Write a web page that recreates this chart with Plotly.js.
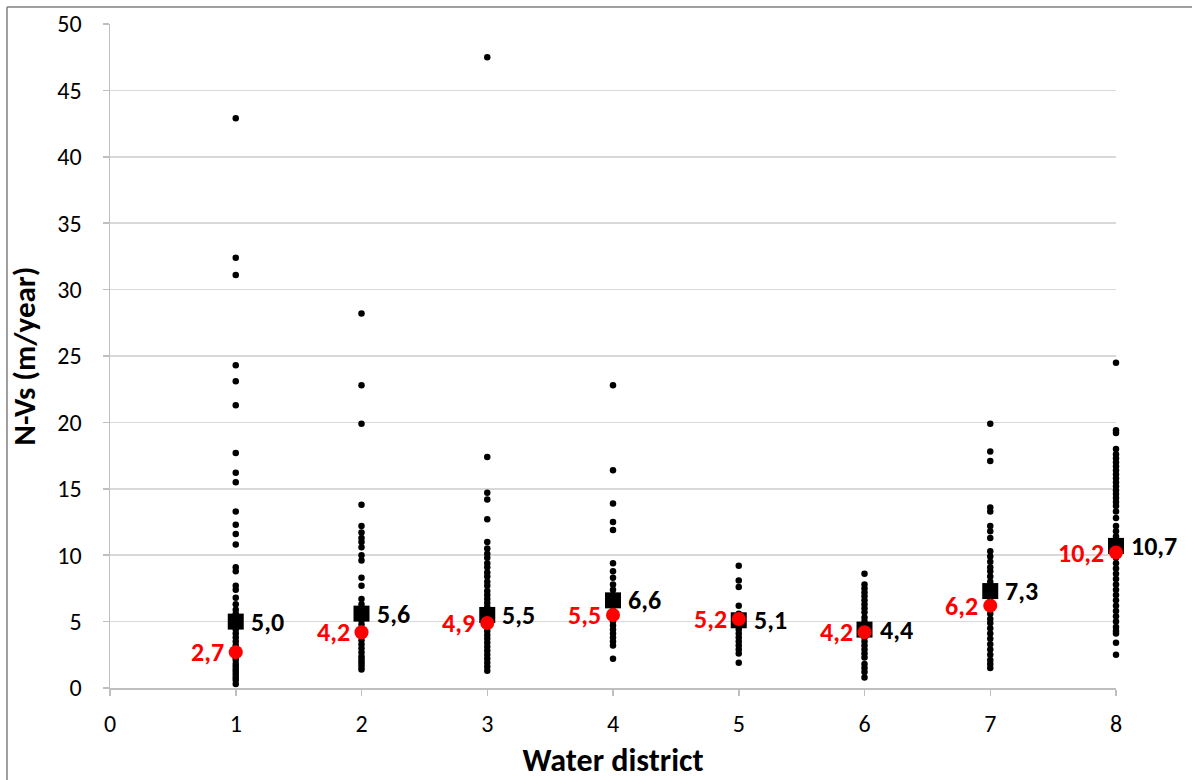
<!DOCTYPE html>
<html>
<head>
<meta charset="utf-8">
<script src="https://cdn.plot.ly/plotly-3.0.1.min.js"></script>
<style>
html,body{margin:0;padding:0;background:#fff;}
#chart{width:1192px;height:780px;}
</style>
</head>
<body>
<div id="chart"></div>
<script>
// District numbers
var districts = [1, 2, 3, 4, 5, 6, 7, 8];
// Individual N-Vs values (m/year) per water district
var d1 = [42.9, 32.4, 31.1, 24.3, 23.1, 21.3, 17.7, 16.2, 15.5, 13.3, 12.3, 11.6, 10.8, 9.1, 8.8, 7.7, 7.4, 6.8, 6.3, 5.9, 5.6, 5.3, 5.0, 4.7, 4.4, 4.1, 3.8, 3.5, 3.2, 2.9, 2.6, 2.3, 2.1, 1.8, 1.6, 1.4, 1.2, 1.0, 0.8, 0.6, 0.3];
var d2 = [28.2, 22.8, 19.9, 13.8, 12.2, 11.7, 11.3, 11.0, 10.6, 10.0, 9.6, 8.3, 7.7, 6.7, 6.3, 6.0, 5.7, 5.4, 5.1, 4.8, 4.5, 4.2, 3.9, 3.6, 3.3, 3.0, 2.7, 2.4, 2.2, 2.0, 1.8, 1.6, 1.4];
var d3 = [47.5, 17.4, 14.7, 14.2, 12.7, 11.0, 10.5, 10.1, 9.8, 9.4, 9.1, 8.7, 8.4, 8.0, 7.7, 7.3, 7.0, 6.7, 6.4, 6.1, 5.8, 5.5, 5.2, 4.9, 4.6, 4.3, 4.0, 3.7, 3.4, 3.1, 2.8, 2.5, 2.2, 1.9, 1.6, 1.3];
var d4 = [22.8, 16.4, 13.9, 12.5, 11.9, 9.4, 8.8, 8.3, 7.8, 7.4, 7.0, 6.6, 6.2, 5.8, 5.4, 5.0, 4.7, 4.4, 4.1, 3.8, 3.5, 3.2, 2.2];
var d5 = [9.2, 8.1, 7.6, 6.2, 5.6, 5.3, 5.0, 4.7, 4.4, 4.1, 3.8, 3.5, 3.2, 2.9, 2.6, 1.9];
var d6 = [8.6, 7.8, 7.5, 7.2, 6.9, 6.6, 6.3, 6.0, 5.7, 5.3, 5.0, 4.7, 4.4, 4.1, 3.8, 3.5, 3.2, 2.9, 2.6, 2.3, 1.8, 1.5, 1.2, 0.8];
var d7 = [19.9, 17.8, 17.1, 13.6, 13.3, 12.2, 11.8, 11.3, 10.3, 9.9, 9.5, 9.1, 8.8, 8.4, 8.0, 7.6, 7.2, 6.8, 6.4, 6.0, 5.6, 5.2, 4.9, 4.5, 4.1, 3.7, 3.3, 2.9, 2.5, 2.1, 1.8, 1.5];
var d8 = [24.5, 19.4, 19.2, 18.0, 17.6, 17.3, 17.0, 16.7, 16.4, 16.1, 15.8, 15.5, 15.2, 14.9, 14.6, 14.3, 14.0, 13.7, 13.3, 12.8, 12.2, 11.8, 11.4, 11.0, 10.6, 10.2, 9.8, 9.4, 9.0, 8.6, 8.2, 7.8, 7.4, 7.0, 6.6, 6.2, 5.8, 5.4, 5.0, 4.6, 4.3, 4.1, 3.4, 2.5];
// Mean (black squares) and median (red circles)
var means = [5.0, 5.6, 5.5, 6.6, 5.1, 4.4, 7.3, 10.7];
var medians = [2.7, 4.2, 4.9, 5.5, 5.2, 4.2, 6.2, 10.2];

var groups = [d1, d2, d3, d4, d5, d6, d7, d8];
var px = [], py = [];
groups.forEach(function (g, i) {
  g.forEach(function (v) { px.push(districts[i]); py.push(v); });
});

function fmt(v) { return v.toFixed(1).replace('.', ','); }

var FONT = 'Carlito, Lato, "Liberation Sans", sans-serif';

var traces = [
  {x: px, y: py, type: 'scatter', mode: 'markers', cliponaxis: false,
   marker: {color: '#000', size: 6.5}, hoverinfo: 'y'},
  {x: districts, y: means, type: 'scatter', mode: 'markers', cliponaxis: false,
   marker: {color: '#000', size: 16, symbol: 'square'}},
  {x: districts, y: medians, type: 'scatter', mode: 'markers', cliponaxis: false,
   marker: {color: '#ff0000', size: 14, symbol: 'circle'}}
];

var annotations = [];
districts.forEach(function (d, i) {
  annotations.push({x: d, y: means[i], xref: 'x', yref: 'y', text: fmt(means[i]),
    showarrow: false, xanchor: 'left', yanchor: 'middle', xshift: 13,
    font: {family: FONT, size: 26, color: '#000', weight: 'bold'}});
  annotations.push({x: d, y: medians[i], xref: 'x', yref: 'y', text: fmt(medians[i]),
    showarrow: false, xanchor: 'right', yanchor: 'middle', xshift: -10,
    font: {family: FONT, size: 26, color: '#ff0000', weight: 'bold'}});
});

var layout = {
  width: 1192, height: 780,
  margin: {l: 110, r: 76, t: 24, b: 92},
  paper_bgcolor: '#fff', plot_bgcolor: '#fff',
  showlegend: false,
  font: {family: FONT, color: '#000'},
  xaxis: {
    range: [0, 8], tickmode: 'array', tickvals: [0,1,2,3,4,5,6,7,8],
    showgrid: false, zeroline: false,
    showline: true, linecolor: '#bfbfbf', linewidth: 1.5,
    ticks: 'outside', ticklen: 6, tickcolor: '#bfbfbf', tickwidth: 1.5,
    ticklabelstandoff: 8,
    tickfont: {family: FONT, size: 24, color: '#000'},
    title: {text: 'Water district', standoff: 12,
      font: {family: FONT, size: 32, color: '#000', weight: 'bold'}}
  },
  yaxis: {
    range: [0, 50], dtick: 5, tick0: 0,
    showgrid: true, gridcolor: '#d9d9d9', gridwidth: 1.5,
    zeroline: false,
    showline: true, linecolor: '#bfbfbf', linewidth: 1.5,
    ticks: 'outside', ticklen: 6, tickcolor: '#bfbfbf', tickwidth: 1.5,
    ticklabelstandoff: 16,
    tickfont: {family: FONT, size: 24, color: '#000'},
    title: {text: 'N-Vs (m/year)', standoff: 12,
      font: {family: FONT, size: 31, color: '#000', weight: 'bold'}}
  },
  annotations: annotations,
  shapes: [
    {type: 'line', xref: 'paper', yref: 'paper', x0: -0.1024, x1: -0.1024, y0: -0.2, y1: 1.0256,
     line: {color: '#7f7f7f', width: 1.5}},
    {type: 'line', xref: 'paper', yref: 'paper', x0: -0.1024, x1: 1.2, y0: 1.0256, y1: 1.0256,
     line: {color: '#7f7f7f', width: 1.5}}
  ]
};

Plotly.newPlot('chart', traces, layout, {displayModeBar: false, staticPlot: true});
</script>
</body>
</html>
